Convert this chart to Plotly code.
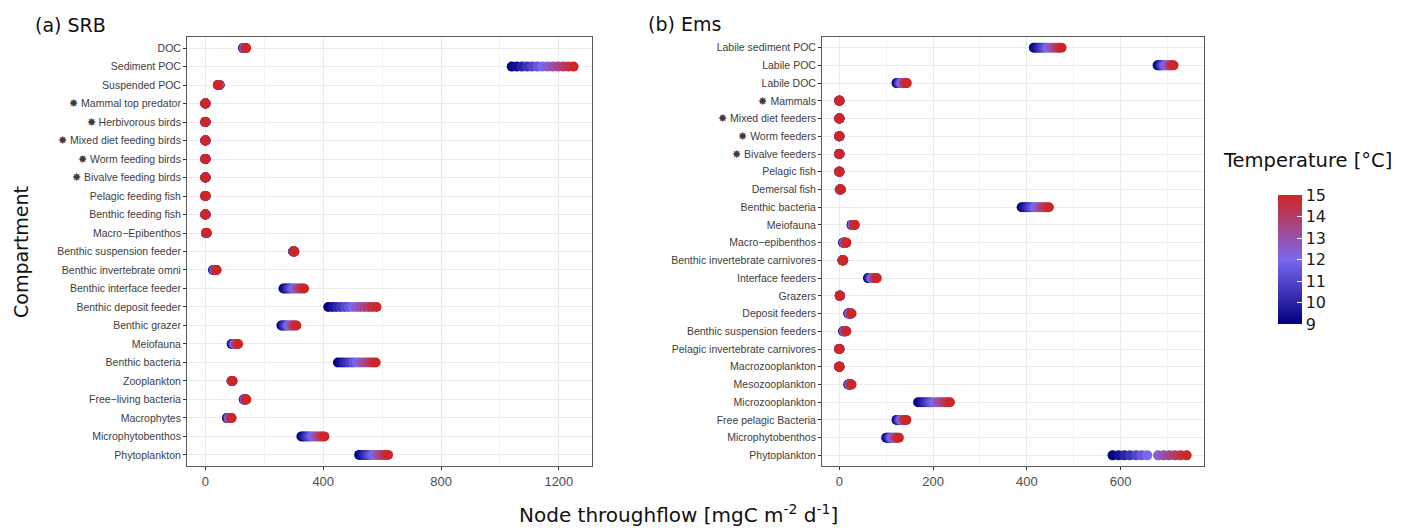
import plotly.graph_objects as go

# ---------------- data ----------------
temperatures = [9, 9.5, 10, 10.5, 11, 11.5, 12, 12.5, 13, 13.5, 14, 14.5, 15]

srb_compartments = [
    "DOC", "Sediment POC", "Suspended POC", "✸ Mammal top predator",
    "✸ Herbivorous birds", "✸ Mixed diet feeding birds", "✸ Worm feeding birds",
    "✸ Bivalve feeding birds", "Pelagic feeding fish", "Benthic feeding fish",
    "Macro−Epibenthos", "Benthic suspension feeder", "Benthic invertebrate omni",
    "Benthic interface feeder", "Benthic deposit feeder", "Benthic grazer",
    "Meiofauna", "Benthic bacteria", "Zooplankton", "Free−living bacteria",
    "Macrophytes", "Microphytobenthos", "Phytoplankton",
]
srb_throughflow = [
    [128, 129, 130, 131, 131, 132, 133, 134, 135, 135, 136, 137, 138],
    [1040, 1057, 1074, 1092, 1109, 1127, 1144, 1162, 1180, 1197, 1215, 1232, 1250],
    [48, 48, 47, 47, 46, 46, 45, 45, 44, 44, 43, 43, 42],
    [0, 0, 0, 0, 0, 0, 0, 0, 0, 0, 0, 0, 0],
    [0, 0, 0, 0, 0, 0, 0, 0, 0, 0, 0, 0, 0],
    [0, 0, 0, 0, 0, 0, 0, 0, 0, 0, 0, 0, 0],
    [0, 0, 0, 0, 0, 0, 0, 0, 0, 0, 0, 0, 0],
    [0, 0, 0, 0, 0, 0, 0, 0, 0, 0, 0, 0, 0],
    [0, 0, 0, 0, 0, 0, 0, 0, 0, 0, 0, 0, 0],
    [0, 0, 0, 0, 0, 0, 0, 0, 0, 0, 0, 0, 0],
    [2, 2, 2, 3, 3, 3, 3, 3, 4, 4, 4, 4, 4],
    [298, 298, 299, 299, 299, 300, 300, 300, 301, 301, 301, 302, 302],
    [26, 27, 28, 29, 30, 31, 32, 33, 34, 35, 36, 37, 38],
    [265, 271, 277, 283, 288, 294, 300, 306, 312, 318, 323, 329, 335],
    [417, 431, 444, 458, 472, 485, 499, 513, 526, 540, 554, 567, 581],
    [258, 262, 266, 271, 275, 279, 283, 288, 292, 296, 300, 305, 309],
    [89, 91, 93, 94, 96, 98, 100, 102, 104, 105, 107, 109, 111],
    [450, 461, 471, 482, 493, 503, 514, 525, 535, 546, 557, 567, 578],
    [89, 89, 89, 90, 90, 90, 90, 91, 91, 91, 91, 92, 92],
    [130, 131, 131, 132, 133, 134, 134, 135, 136, 137, 137, 138, 139],
    [73, 74, 76, 77, 78, 80, 81, 82, 84, 85, 86, 88, 89],
    [326, 332, 339, 345, 352, 358, 365, 371, 378, 384, 391, 397, 404],
    [522, 530, 538, 546, 555, 563, 571, 579, 587, 596, 604, 612, 620],
]

ems_compartments = [
    "Labile sediment POC", "Labile POC", "Labile DOC", "✸ Mammals",
    "✸ Mixed diet feeders", "✸ Worm feeders", "✸ Bivalve feeders",
    "Pelagic fish", "Demersal fish", "Benthic bacteria", "Meiofauna",
    "Macro−epibenthos", "Benthic invertebrate carnivores", "Interface feeders",
    "Grazers", "Deposit feeders", "Benthic suspension feeders",
    "Pelagic invertebrate carnivores", "Macrozooplankton", "Mesozooplankton",
    "Microzooplankton", "Free pelagic Bacteria", "Microphytobenthos", "Phytoplankton",
]
ems_throughflow = [
    [415, 420, 425, 430, 435, 440, 445, 450, 455, 460, 465, 469, 474],
    [679, 682, 685, 688, 690, 693, 696, 699, 702, 705, 707, 710, 713],
    [122, 124, 126, 128, 129, 131, 133, 135, 137, 138, 140, 142, 144],
    [0, 0, 0, 0, 0, 0, 0, 0, 0, 0, 0, 0, 0],
    [0, 0, 0, 0, 0, 0, 0, 0, 0, 0, 0, 0, 0],
    [0, 0, 0, 0, 0, 0, 0, 0, 0, 0, 0, 0, 0],
    [0, 0, 0, 0, 0, 0, 0, 0, 0, 0, 0, 0, 0],
    [0, 0, 0, 0, 0, 0, 0, 0, 0, 0, 0, 0, 0],
    [1, 1, 1, 2, 2, 2, 2, 2, 2, 3, 3, 3, 3],
    [389, 394, 399, 404, 408, 413, 418, 423, 428, 432, 437, 442, 447],
    [26, 27, 27, 28, 28, 29, 29, 30, 31, 31, 32, 32, 33],
    [8, 9, 9, 10, 10, 11, 11, 12, 13, 13, 14, 14, 15],
    [7, 7, 7, 7, 7, 7, 8, 8, 8, 8, 8, 8, 8],
    [61, 63, 64, 66, 67, 69, 70, 72, 74, 75, 77, 78, 80],
    [1, 1, 1, 1, 1, 1, 1, 1, 1, 1, 1, 1, 1],
    [19, 20, 20, 21, 21, 22, 22, 23, 24, 24, 25, 25, 26],
    [8, 9, 9, 10, 10, 11, 11, 12, 13, 13, 14, 14, 15],
    [0, 0, 0, 0, 0, 0, 0, 0, 0, 0, 0, 0, 0],
    [0, 0, 0, 0, 0, 0, 0, 0, 0, 0, 0, 0, 0],
    [19, 20, 20, 21, 21, 22, 22, 23, 24, 24, 25, 25, 26],
    [168, 174, 180, 185, 191, 196, 202, 208, 213, 219, 225, 230, 236],
    [122, 124, 126, 127, 129, 131, 132, 134, 136, 138, 139, 141, 143],
    [100, 102, 105, 107, 109, 111, 113, 116, 118, 120, 122, 125, 127],
    [583, 596, 608, 620, 633, 645, 657, 680, 692, 704, 716, 728, 741],
]

srb_ticks = [0, 400, 800, 1200]
ems_ticks = [0, 200, 400, 600]
temp_ticks = [9, 10, 11, 12, 13, 14, 15]

# ---------------- figure ----------------
# The page body has an 8px margin, so the figure starts 8px in from the window edge.
OFF = 8
W, H = 1397, 522


def px(x):
    return (x - OFF) / W


def py(y):
    return 1 - (y - OFF) / H


colorscale = [[0.0, "#000080"], [0.5, "#7B68EE"], [1.0, "#CD2626"]]


def flatten(names, values):
    xs, ys, cs = [], [], []
    for ti, t in enumerate(temperatures):
        for name, vals in zip(names, values):
            xs.append(vals[ti])
            ys.append(name)
            cs.append(t)
    return xs, ys, cs


fig = go.Figure()

x1, y1, c1 = flatten(srb_compartments, srb_throughflow)
x2, y2, c2 = flatten(ems_compartments, ems_throughflow)

fig.add_trace(go.Scatter(
    x=x1, y=y1, mode="markers", xaxis="x", yaxis="y", showlegend=False,
    marker=dict(size=10, color=c1, colorscale=colorscale, cmin=9, cmax=15,
                line=dict(width=0), showscale=True,
                colorbar=dict(x=px(1278), xanchor="left", y=py(259.5), yanchor="middle",
                              len=129, lenmode="pixels", thickness=24, ypad=0, xpad=0,
                              tickvals=temp_ticks, ticks="inside", tickcolor="white",
                              ticklen=5, outlinewidth=0,
                              tickfont=dict(family="DejaVu Sans", size=16, color="#1a1a1a"))),
))
fig.add_trace(go.Scatter(
    x=x2, y=y2, mode="markers", xaxis="x2", yaxis="y2", showlegend=False,
    marker=dict(size=10, color=c2, colorscale=colorscale, cmin=9, cmax=15,
                line=dict(width=0), showscale=False),
))

ydom = [py(466), py(37)]

tickfont_y = dict(family="Liberation Sans", size=10.5, color="#3d3d3d")
tickfont_x = dict(family="Liberation Sans", size=13, color="#4d4d4d")

common_x = dict(showline=True, mirror=True, linecolor="#5a5a5a", linewidth=1,
                showgrid=True, gridcolor="#ebebeb", gridwidth=1, zeroline=False,
                ticks="outside", ticklen=3, tickcolor="#333333", tickfont=tickfont_x,
                automargin=False)
common_y = dict(showline=True, mirror=True, linecolor="#5a5a5a", linewidth=1,
                showgrid=True, gridcolor="#ebebeb", gridwidth=1, zeroline=False,
                ticks="outside", ticklen=3, tickcolor="#333333", tickfont=tickfont_y,
                type="category", automargin=False)

title_font = dict(family="DejaVu Sans", size=19, color="#111")

fig.update_layout(
    width=W, height=H,
    margin=dict(l=0, r=0, t=0, b=0),
    paper_bgcolor="white", plot_bgcolor="white",
    xaxis=dict(domain=[px(187), px(592)], anchor="y", range=[-62.5, 1312.5],
               tickvals=srb_ticks,
               minor=dict(tickvals=[200, 600, 1000], showgrid=True, gridcolor="#f3f3f3",
                          ticks=""),
               **common_x),
    yaxis=dict(domain=ydom, anchor="x", categoryorder="array",
               categoryarray=srb_compartments[::-1],
               range=[-0.6, len(srb_compartments) - 0.4], **common_y),
    xaxis2=dict(domain=[px(822), px(1204)], anchor="y2", range=[-37, 778],
                tickvals=ems_ticks,
                minor=dict(tickvals=[100, 300, 500, 700], showgrid=True, gridcolor="#f3f3f3",
                           ticks=""),
                **common_x),
    yaxis2=dict(domain=ydom, anchor="x2", categoryorder="array",
                categoryarray=ems_compartments[::-1],
                range=[-0.6, len(ems_compartments) - 0.4], **common_y),
    annotations=[
        dict(text="(a) SRB", x=px(33), y=py(25), xref="paper", yref="paper",
             xanchor="left", yanchor="middle", showarrow=False, font=title_font),
        dict(text="(b) Ems", x=px(646), y=py(24), xref="paper", yref="paper",
             xanchor="left", yanchor="middle", showarrow=False, font=title_font),
        dict(text="Compartment", x=px(21), y=py(252), xref="paper", yref="paper",
             xanchor="center", yanchor="middle", textangle=-90, showarrow=False,
             font=dict(family="DejaVu Sans", size=19, color="#111")),
        dict(text="Node throughflow [mgC m<sup>-2</sup> d<sup>-1</sup>]",
             x=px(678), y=py(514), xref="paper", yref="paper",
             xanchor="center", yanchor="middle", showarrow=False,
             font=dict(family="DejaVu Sans", size=20, color="#111")),
        dict(text="Temperature [°C]", x=px(1221), y=py(160), xref="paper", yref="paper",
             xanchor="left", yanchor="middle", showarrow=False,
             font=dict(family="DejaVu Sans", size=19.5, color="#111")),
    ],
)

fig.write_html("out.html")
